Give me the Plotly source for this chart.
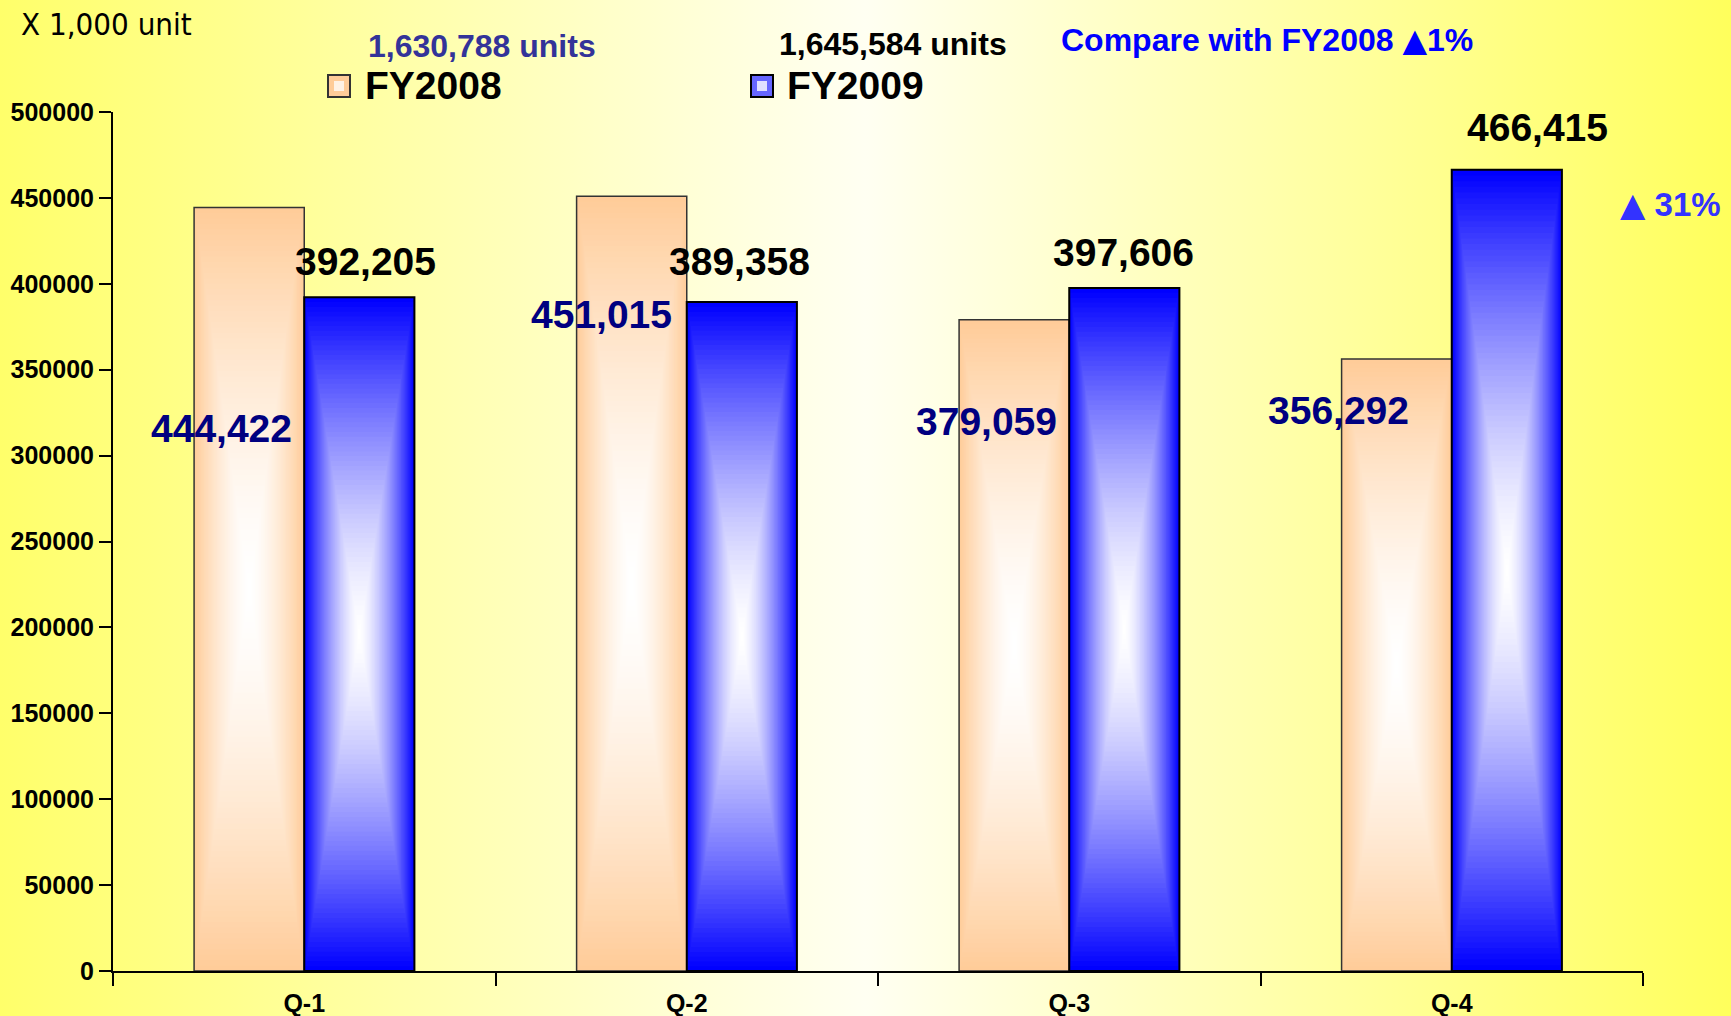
import base64
import plotly.graph_objects as go

# ---------------- data ----------------
quarters = ["Q-1", "Q-2", "Q-3", "Q-4"]
fy2008 = [444422, 451015, 379059, 356292]
fy2009 = [392205, 389358, 397606, 466415]
series_names = ["FY2008", "FY2009"]
total_2008_text = "1,630,788 units"
total_2009_text = "1,645,584 units"
TRI = '<span style="font-family:DejaVu Sans">▲</span>'
compare_text = "Compare with FY2008 " + TRI + "1%"
q4_growth_text = TRI + " 31%"
unit_text = "X 1,000 unit"
y_tick_values = [0, 50000, 100000, 150000, 200000, 250000, 300000, 350000, 400000, 450000, 500000]
y_tick_labels = [str(v) for v in y_tick_values]

# ---------------- layout constants ----------------
W_FIG, H_FIG = 1731, 1016
M_L, M_R, M_T, M_B = 113, 88, 112, 45
PW = W_FIG - M_L - M_R
PH = H_FIG - M_T - M_B


def px(x):
    return (x - M_L) / PW


def py(y):
    return (H_FIG - M_B - y) / PH


BAR_W = 0.288
N_STEPS = 70
FONT = "Liberation Sans, Arial, sans-serif"

# label placement (pixel shift from category centre, y position in data units)
lab08_dx = [-83, -85, -83, -113]
lab08_y = [316000, 382000, 320000, 326000]
lab09_dx = [61, 53, 54, 86]
lab09_y = [413000, 413000, 418300, 491000]


def mix(c1, c2, t):
    return "rgb(%d,%d,%d)" % tuple(round(a + (b - a) * t) for a, b in zip(c1, c2))


fig = go.Figure()

styles = [
    (fy2008, -BAR_W, (255, 204, 153), (255, 255, 255), "#333333", 1.5),
    (fy2009, 0.0, (0, 0, 255), (255, 255, 255), "#000000", 2),
]

for values, off0, edge, centre, line_col, line_w in styles:
    # rectangular "from centre" gradient built from nested bars
    for k in range(N_STEPS):
        f = 1 - k / N_STEPS  # normalised distance from centre (1 = edge)
        t = 1 - f ** 1.5
        fig.add_trace(go.Bar(
            x=quarters,
            y=[v * f for v in values],
            base=[v * (1 - f) / 2 for v in values],
            width=BAR_W * f,
            offset=off0 + BAR_W * (1 - f) / 2,
            marker=dict(color=mix(edge, centre, t), line=dict(width=0)),
            showlegend=False,
            hoverinfo="skip",
        ))
    # outline
    fig.add_trace(go.Bar(
        x=quarters,
        y=values,
        width=BAR_W,
        offset=off0,
        marker=dict(color="rgba(0,0,0,0)", line=dict(color=line_col, width=line_w)),
        showlegend=False,
        hoverinfo="skip",
    ))

annotations = []
# value labels
for q, v, dx, yy in zip(quarters, fy2008, lab08_dx, lab08_y):
    annotations.append(dict(x=q, y=yy, xref="x", yref="y", xshift=dx, text=f"{v:,}",
                            showarrow=False, font=dict(family=FONT, size=39, color="#000080", weight="bold")))
for q, v, dx, yy in zip(quarters, fy2009, lab09_dx, lab09_y):
    annotations.append(dict(x=q, y=yy, xref="x", yref="y", xshift=dx, text=f"{v:,}",
                            showarrow=False, font=dict(family=FONT, size=39, color="#000000", weight="bold")))

# header texts
annotations += [
    dict(x=px(19), y=py(24), xref="paper", yref="paper", xanchor="left", yanchor="middle",
         text=unit_text, showarrow=False,
         font=dict(family="DejaVu Sans Condensed, Liberation Sans, sans-serif", size=31, color="#000000")),
    dict(x=px(482), y=py(46), xref="paper", yref="paper", xanchor="center", yanchor="middle",
         text=total_2008_text, showarrow=False, font=dict(family=FONT, size=32, color="#333399", weight="bold")),
    dict(x=px(893), y=py(44), xref="paper", yref="paper", xanchor="center", yanchor="middle",
         text=total_2009_text, showarrow=False, font=dict(family=FONT, size=32, color="#000000", weight="bold")),
    dict(x=px(1267), y=py(40), xref="paper", yref="paper", xanchor="center", yanchor="middle",
         text=compare_text, showarrow=False, font=dict(family=FONT, size=32, color="#0000FF", weight="bold")),
    dict(x=px(1670), y=py(204), xref="paper", yref="paper", xanchor="center", yanchor="middle",
         text=q4_growth_text, showarrow=False, font=dict(family=FONT, size=33, color="#3333FF", weight="bold")),
]

# custom legend
legend_items = [
    (series_names[0], 328, 363, "#FFCC99", "#FFF2E6", "#333333"),
    (series_names[1], 751, 785, "#6666FF", "#E0E0FF", "#000000"),
]
shapes = []
for name, mx, tx, outer, inner, border in legend_items:
    shapes.append(dict(type="rect", xref="paper", yref="paper",
                       x0=px(mx), x1=px(mx + 22), y0=py(97), y1=py(75),
                       fillcolor=outer, line=dict(color=border, width=2)))
    shapes.append(dict(type="rect", xref="paper", yref="paper",
                       x0=px(mx + 6), x1=px(mx + 16), y0=py(91), y1=py(81),
                       fillcolor=inner, line=dict(width=0)))
    annotations.append(dict(x=px(tx), y=py(86), xref="paper", yref="paper", xanchor="left", yanchor="middle",
                            text=name, showarrow=False,
                            font=dict(family=FONT, size=39, color="#000000", weight="bold")))

# background gradient
svg = (
    f'<svg xmlns="http://www.w3.org/2000/svg" width="{W_FIG}" height="{H_FIG}">'
    '<defs><linearGradient id="g" x1="0" y1="0" x2="1" y2="0">'
    '<stop offset="0" stop-color="#FFFF6A"/>'
    '<stop offset="0.5" stop-color="#FFFFF2"/>'
    '<stop offset="1" stop-color="#FFFF5C"/>'
    '</linearGradient></defs>'
    f'<rect width="{W_FIG}" height="{H_FIG}" fill="url(#g)"/></svg>'
)
bg_src = "data:image/svg+xml;base64," + base64.b64encode(svg.encode()).decode()

fig.update_layout(
    width=W_FIG, height=H_FIG,
    margin=dict(l=M_L, r=M_R, t=M_T, b=M_B, pad=0, autoexpand=False),
    barmode="overlay",
    paper_bgcolor="#FFFFC8",
    plot_bgcolor="rgba(0,0,0,0)",
    showlegend=False,
    annotations=annotations,
    shapes=shapes,
    images=[dict(source=bg_src, xref="paper", yref="paper",
                 x=px(0), y=py(0), sizex=W_FIG / PW, sizey=H_FIG / PH,
                 xanchor="left", yanchor="top", sizing="stretch", layer="below")],
    xaxis=dict(
        type="category", range=[-0.5, 3.5], tickson="boundaries", automargin=False,
        ticks="outside", ticklen=13, tickwidth=2, tickcolor="#000000",
        showline=True, linecolor="#000000", linewidth=2, showgrid=False, zeroline=False,
        tickfont=dict(family=FONT, size=25, color="#000000", weight="bold"),
        ticklabelstandoff=9,
        fixedrange=True,
    ),
    yaxis=dict(
        range=[0, 500000], tickvals=y_tick_values, ticktext=y_tick_labels, automargin=False,
        ticks="outside", ticklen=12, tickwidth=2, tickcolor="#000000",
        showline=True, linecolor="#000000", linewidth=2, showgrid=False, zeroline=False,
        tickfont=dict(family=FONT, size=25, color="#000000", weight="bold"),
        fixedrange=True,
    ),
)

fig.write_html("out.html", config={"displayModeBar": False},
               post_script="document.body.style.margin='0';document.body.style.overflow='hidden';")
